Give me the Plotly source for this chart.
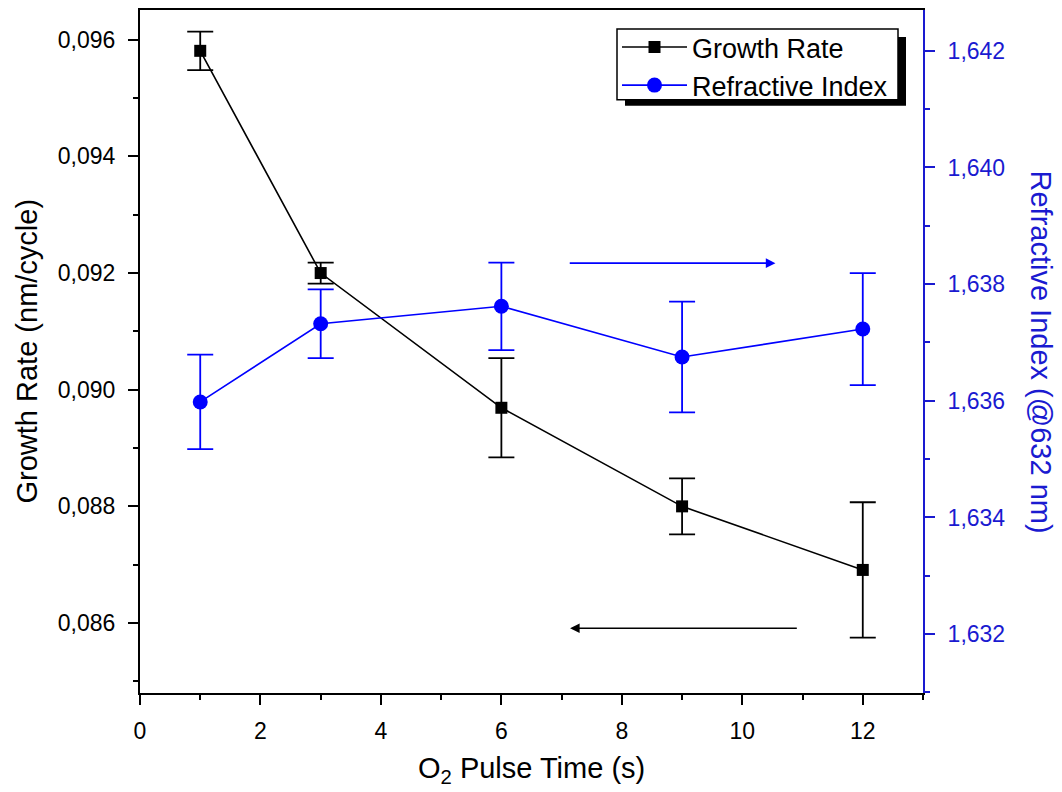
import plotly.graph_objects as go

# ---- data ----
pulse_time = [1, 3, 6, 9, 12]
growth_rate = [0.09581, 0.0920, 0.08969, 0.0880, 0.08691]
growth_err = [0.00033, 0.00018, 0.00085, 0.00048, 0.00116]
refr_index = [1.63598, 1.63732, 1.63762, 1.63675, 1.63723]
refr_err = [0.00081, 0.00059, 0.00075, 0.00095, 0.00096]

x_range = [0, 13]
y_left_range = [0.0848, 0.09651]
y_right_range = [1.63099, 1.6427]

# arrows (tail -> head) in data units
blue_arrow_x = [7.11, 10.55]
blue_arrow_y = 1.63836
black_arrow_x = [10.93, 7.14]
black_arrow_y = 0.08591

BLUE = "#0000FF"
AXBLUE = "#1a1ad0"
FONT = "Arial, Liberation Sans, sans-serif"

W, H = 1062, 792
L, R, T, B = 140, 139, 8, 99
pw, ph = W - L - R, H - T - B

def px_x(p):
    return (p - L) / pw

def px_y(p):
    return 1 - (p - T) / ph

fig = go.Figure()

fig.add_trace(go.Scatter(
    x=pulse_time, y=growth_rate, name="Growth Rate",
    mode="lines+markers",
    line=dict(color="black", width=1.6),
    marker=dict(symbol="square", size=12, color="black"),
    error_y=dict(type="data", array=growth_err, visible=True,
                 color="black", thickness=1.8, width=13),
    yaxis="y",
))
fig.add_trace(go.Scatter(
    x=pulse_time, y=refr_index, name="Refractive Index",
    mode="lines+markers",
    line=dict(color=BLUE, width=1.6),
    marker=dict(symbol="circle", size=15, color=BLUE),
    error_y=dict(type="data", array=refr_err, visible=True,
                 color=BLUE, thickness=1.8, width=13),
    yaxis="y2",
))

annotations = [
    dict(x=blue_arrow_x[1], y=blue_arrow_y, ax=blue_arrow_x[0], ay=blue_arrow_y,
         xref="x", yref="y2", axref="x", ayref="y2", text="", showarrow=True,
         arrowhead=2, arrowsize=1.2, arrowwidth=1.6, arrowcolor=BLUE),
    dict(x=black_arrow_x[1], y=black_arrow_y, ax=black_arrow_x[0], ay=black_arrow_y,
         xref="x", yref="y", axref="x", ayref="y", text="", showarrow=True,
         arrowhead=2, arrowsize=1.2, arrowwidth=1.6, arrowcolor="black"),
    dict(text="Growth Rate (nm/cycle)", xref="paper", yref="paper",
         x=px_x(26), y=0.5, xanchor="center", yanchor="middle",
         textangle=-90, showarrow=False,
         font=dict(family=FONT, size=29, color="black")),
    dict(text="Refractive Index (@632 nm)", xref="paper", yref="paper",
         x=px_x(1041), y=0.5, xanchor="center", yanchor="middle",
         textangle=90, showarrow=False,
         font=dict(family=FONT, size=29, color=AXBLUE)),
    dict(text="O<sub>2</sub> Pulse Time (s)", xref="paper", yref="paper",
         x=0.5, y=px_y(770), xanchor="center", yanchor="middle",
         showarrow=False,
         font=dict(family=FONT, size=29, color="black")),
]

shapes = [
    # legend drop shadow
    dict(type="rect", xref="paper", yref="paper",
         x0=px_x(625), x1=px_x(906), y0=px_y(104), y1=px_y(35),
         fillcolor="black", line=dict(width=0), layer="above"),
    # legend frame
    dict(type="rect", xref="paper", yref="paper",
         x0=px_x(617), x1=px_x(898), y0=px_y(98), y1=px_y(27),
         fillcolor="white", line=dict(color="black", width=1.5), layer="above"),
]

fig.update_layout(
    width=W, height=H,
    margin=dict(l=L, r=R, t=T, b=B, pad=0),
    paper_bgcolor="white", plot_bgcolor="white",
    separators=", ",
    font=dict(family=FONT, size=23, color="black"),
    showlegend=True,
    legend=dict(x=px_x(617), y=px_y(21), xanchor="left", yanchor="top",
                bgcolor="rgba(0,0,0,0)", borderwidth=0,
                font=dict(family=FONT, size=27, color="black"),
                itemwidth=65, tracegroupgap=0),
    xaxis=dict(range=x_range, dtick=2, tick0=0, showgrid=False, zeroline=False,
               showline=True, linecolor="black", linewidth=2, mirror=True,
               ticks="outside", ticklen=10, tickwidth=2, tickcolor="black",
               minor=dict(dtick=1, ticks="outside", ticklen=5, tickwidth=2, tickcolor="black"),
               ticklabelstandoff=6,
               tickfont=dict(family=FONT, size=23, color="black")),
    yaxis=dict(range=y_left_range, dtick=0.002, tick0=0.086, tickformat=".3f",
               showgrid=False, zeroline=False,
               showline=True, linecolor="black", linewidth=2,
               ticks="outside", ticklen=10, tickwidth=2, tickcolor="black",
               minor=dict(dtick=0.001, ticks="outside", ticklen=5, tickwidth=2, tickcolor="black"),
               ticklabelstandoff=8,
               tickfont=dict(family=FONT, size=23, color="black")),
    yaxis2=dict(range=y_right_range, dtick=0.002, tick0=1.632, tickformat=".3f",
                overlaying="y", side="right", showgrid=False, zeroline=False,
                showline=True, linecolor=AXBLUE, linewidth=2,
                ticks="outside", ticklen=10, tickwidth=2, tickcolor=AXBLUE,
                minor=dict(dtick=0.001, ticks="outside", ticklen=5, tickwidth=2, tickcolor=AXBLUE),
                ticklabelstandoff=8,
                tickfont=dict(family=FONT, size=23, color=AXBLUE)),
    annotations=annotations,
    shapes=shapes,
)

fig.write_html("out.html")
